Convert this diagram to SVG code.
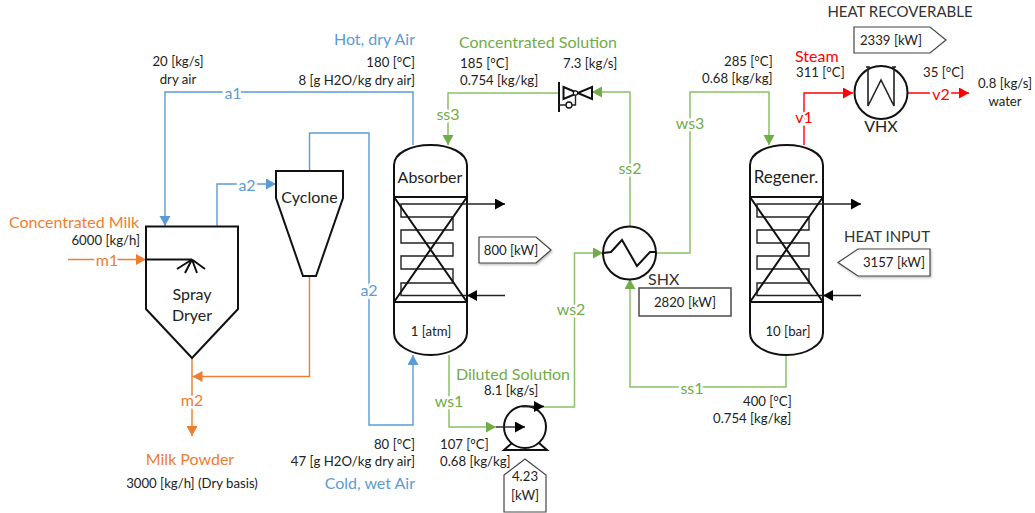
<svg xmlns="http://www.w3.org/2000/svg" width="1035" height="513" viewBox="0 0 1035 513">
<style>
text{font-family:Lato,"Open Sans","Liberation Sans",sans-serif;font-size:13.200px;fill:#222}
.n{font-size:16px}
.c{text-anchor:middle}
.e{text-anchor:end}
.b{fill:#5b9bd5}.o{fill:#ed7d31}.g{fill:#70ad47}.r{fill:#ff0000}
.l{font-size:16px;paint-order:stroke;stroke:#fff;stroke-width:5px;text-anchor:middle;dominant-baseline:central}
.h{font-size:15px;fill:#333}
.k{fill:none;stroke:#111;stroke-width:2}
.k1{fill:none;stroke:#222;stroke-width:1.4}
.w{fill:#fff;stroke:#111;stroke-width:2}
.cb{fill:none;stroke:#5b9bd5;stroke-width:1.4}
.co{fill:none;stroke:#ed7d31;stroke-width:1.4}
.cg{fill:none;stroke:#8cc168;stroke-width:1.5}
.cr{fill:none;stroke:#ff0000;stroke-width:1.4}
.call{fill:#fff;stroke:#444;stroke-width:1.2}
.sh{filter:url(#sh)}
</style>
<defs>
<filter id="sh" x="-10%" y="-10%" width="125%" height="130%"><feDropShadow dx="1" dy="1.500" stdDeviation="1" flood-color="#000" flood-opacity="0.25"/></filter>
<marker id="ab" markerUnits="userSpaceOnUse" markerWidth="11" markerHeight="12" refX="10" refY="5.500" orient="auto"><path d="M0,0L10,5.500L0,11Z" fill="#5b9bd5"/></marker>
<marker id="ao" markerUnits="userSpaceOnUse" markerWidth="11" markerHeight="12" refX="10" refY="5.500" orient="auto"><path d="M0,0L10,5.500L0,11Z" fill="#ed7d31"/></marker>
<marker id="ag" markerUnits="userSpaceOnUse" markerWidth="11" markerHeight="12" refX="10" refY="5.500" orient="auto"><path d="M0,0L10,5.500L0,11Z" fill="#70ad47"/></marker>
<marker id="ar" markerUnits="userSpaceOnUse" markerWidth="11" markerHeight="12" refX="10" refY="5.500" orient="auto"><path d="M0,0L10,5.500L0,11Z" fill="#ff0000"/></marker>
<marker id="ak" markerUnits="userSpaceOnUse" markerWidth="11" markerHeight="12" refX="10" refY="5.500" orient="auto"><path d="M0,0L10,5.500L0,11Z" fill="#000"/></marker>
<g id="col">
<path class="w" d="M394,197V165C394,153 411,145 430.500,145C450,145 467,153 467,165V197Z"/>
<path class="w" d="M394,302V333C394,345 411,355 430.500,355C450,355 467,345 467,333V302Z"/>
<rect class="w" x="394" y="197" width="73" height="105"/>
<path class="k1" d="M467,204H401V217H453V230H401V243H453V256H401V269H453V283H401V295.500H467"/>
<path class="k" d="M394,197L467,302M467,197L394,302"/>
<path d="M467,204H505" class="k1" marker-end="url(#ak)"/>
<path d="M505,295.500H467" class="k1" marker-end="url(#ak)"/>
</g>
</defs>

<g id="connectors">
<path class="cb" d="M413,145V92H165V226" marker-end="url(#ab)"/>
<path class="cb" d="M217,226V184H276" marker-end="url(#ab)"/>
<path class="cb" d="M309.500,171V133H369V425H413V355" marker-end="url(#ab)"/>
<path class="co" d="M68,259.500H146" marker-end="url(#ao)"/>
<path class="co" d="M309.500,276V376.500H192.500" marker-end="url(#ao)"/>
<path class="co" d="M192,358V436" marker-end="url(#ao)"/>
<path class="cg" d="M559,93H448V145" marker-end="url(#ag)"/>
<path class="cg" d="M630,227V92H592" marker-end="url(#ag)"/>
<path class="cg" d="M656,253H690V92H769V145" marker-end="url(#ag)"/>
<path class="cg" d="M786,355V387H630V279" marker-end="url(#ag)"/>
<path class="cg" d="M449,355V427H496" marker-end="url(#ag)"/>
<path class="cg" d="M544,407H574.500V253H603" marker-end="url(#ag)"/>
<path class="cr" d="M804,145V93H853" marker-end="url(#ar)"/>
<path class="cr" d="M908,93H969" marker-end="url(#ar)"/>
<text class="l b" x="233" y="92">a1</text>
<text class="l b" x="247" y="184">a2</text>
<text class="l b" x="369" y="289">a2</text>
<text class="l o" x="107" y="259.500">m1</text>
<text class="l o" x="192" y="399">m2</text>
<text class="l g" x="448" y="113">ss3</text>
<text class="l g" x="630" y="167">ss2</text>
<text class="l g" x="690" y="122">ws3</text>
<text class="l g" x="692" y="387">ss1</text>
<text class="l g" x="449" y="400">ws1</text>
<text class="l g" x="571" y="308">ws2</text>
<text class="l r" x="804" y="116">v1</text>
<text class="l r" x="941" y="93">v2</text>
</g>

<g id="spray-dryer">
<path class="w" d="M146,226.500H238V309L192,358L146,309Z"/>
<path class="k" d="M146,259.500H192M192,259.500L177,269M192,259.500L185,273M192,259.500L197,273M192,259.500L205,269"/>
<text class="n c" x="192" y="300">Spray</text>
<text class="n c" x="192" y="321">Dryer</text>
</g>
<g id="cyclone">
<path class="w" d="M276,171H343V198L316,276H303L276,198Z"/>
<text class="n c" x="309.500" y="203">Cyclone</text>
</g>
<g id="absorber">
<use href="#col"/>
<text class="n c" x="430" y="183">Absorber</text>
<text class="c" x="431" y="336">1 [atm]</text>
</g>
<g id="regenerator">
<use href="#col" x="356"/>
<text class="n c" x="786" y="183" style="font-size:17px">Regener.</text>
<text class="c" x="788" y="336">10 [bar]</text>
</g>
<g id="valve">
<path class="k" d="M559,82V112"/>
<path class="k" d="M563.500,87L592,99V87L563.500,99Z"/>
<circle cx="575.500" cy="93" r="2.200" fill="#fff" stroke="#111" stroke-width="1.200"/>
<path class="k1" d="M575.500,95V105H572M566,105H559"/>
<circle cx="569" cy="105" r="3" fill="#fff" stroke="#111" stroke-width="1.300"/>
</g>
<g id="shx">
<circle class="w" cx="629.500" cy="253" r="26.500"/>
<path class="k" d="M603,253L611,252L622,240L637,266L650,252H656"/>
<text class="n" x="648" y="285" style="fill:#333">SHX</text>
</g>
<g id="vhx">
<circle class="w" cx="881" cy="92.500" r="26.500"/>
<path class="k1" style="stroke-width:1.600" d="M868,67V106L881,80L894,106V67M866,67H870M892,67H896"/>
<text class="n c" x="881" y="132">VHX</text>
</g>
<g id="pump">
<path class="k" d="M504,450L512,443H539L547,450Z"/>
<circle class="w" cx="525" cy="427" r="21"/>
<path class="k1" d="M496,427H525" marker-end="url(#ak)"/>
<path class="k1" style="stroke-width:1.800" d="M522,406.500H544" marker-end="url(#ak)"/>
</g>

<g id="callout-800"><path class="call sh" d="M479,237H536L551,250L536,263H479Z"/><text class="c" x="511" y="254.500">800 [kW]</text></g>
<g id="callout-2339"><path class="call" d="M854,27H930L946,40L930,53H854Z"/><text class="c" x="891" y="44.500">2339 [kW]</text></g>
<g id="callout-3157"><path class="call sh" d="M838,262.500L858,249H930V276H858Z"/><text class="c" x="894" y="267">3157 [kW]</text></g>
<g id="box-2820"><rect x="639" y="288" width="92" height="28" fill="#fff" stroke="#555" stroke-width="1.600"/><text class="c" x="685" y="307">2820 [kW]</text></g>
<g id="callout-423"><path class="call" d="M504,475L525,459L546,475V512H504Z"/><text class="c" x="525" y="481">4.23</text><text class="c" x="525" y="500">[kW]</text></g>

<g id="labels">
<text class="n e b" x="415" y="45">Hot, dry Air</text>
<text class="e" x="415" y="67">180 [°C]</text>
<text class="e" x="415" y="85">8 [g H2O/kg dry air]</text>
<text class="c" x="178" y="66">20 [kg/s]</text>
<text class="c" x="178" y="84">dry air</text>
<text class="n g" x="459" y="48">Concentrated Solution</text>
<text x="460" y="68">185 [°C]</text>
<text x="460" y="85">0.754 [kg/kg]</text>
<text x="563" y="68">7.3 [kg/s]</text>
<text x="724" y="66">285 [°C]</text>
<text x="702" y="83">0.68 [kg/kg]</text>
<text class="h c" x="900" y="17">HEAT RECOVERABLE</text>
<text class="n r" x="795" y="62">Steam</text>
<text x="796" y="77">311 [°C]</text>
<text x="923" y="77">35 [°C]</text>
<text class="c" x="1005" y="88">0.8 [kg/s]</text>
<text class="c" x="1005" y="106">water</text>
<text class="n o" x="9" y="228">Concentrated Milk</text>
<text class="e" x="140" y="245">6000 [kg/h]</text>
<text class="h c" x="887" y="242">HEAT INPUT</text>
<text class="n g" x="456" y="380">Diluted Solution</text>
<text x="484" y="395">8.1 [kg/s]</text>
<text x="440" y="449">107 [°C]</text>
<text x="440" y="466">0.68 [kg/kg]</text>
<text class="e" x="415" y="449">80 [°C]</text>
<text class="e" x="415" y="466">47 [g H2O/kg dry air]</text>
<text class="n e b" x="415" y="489">Cold, wet Air</text>
<text x="743" y="406">400 [°C]</text>
<text x="713" y="423">0.754 [kg/kg]</text>
<text class="n c o" x="190" y="465">Milk Powder</text>
<text class="c" x="192" y="488">3000 [kg/h] (Dry basis)</text>
</g>
</svg>
